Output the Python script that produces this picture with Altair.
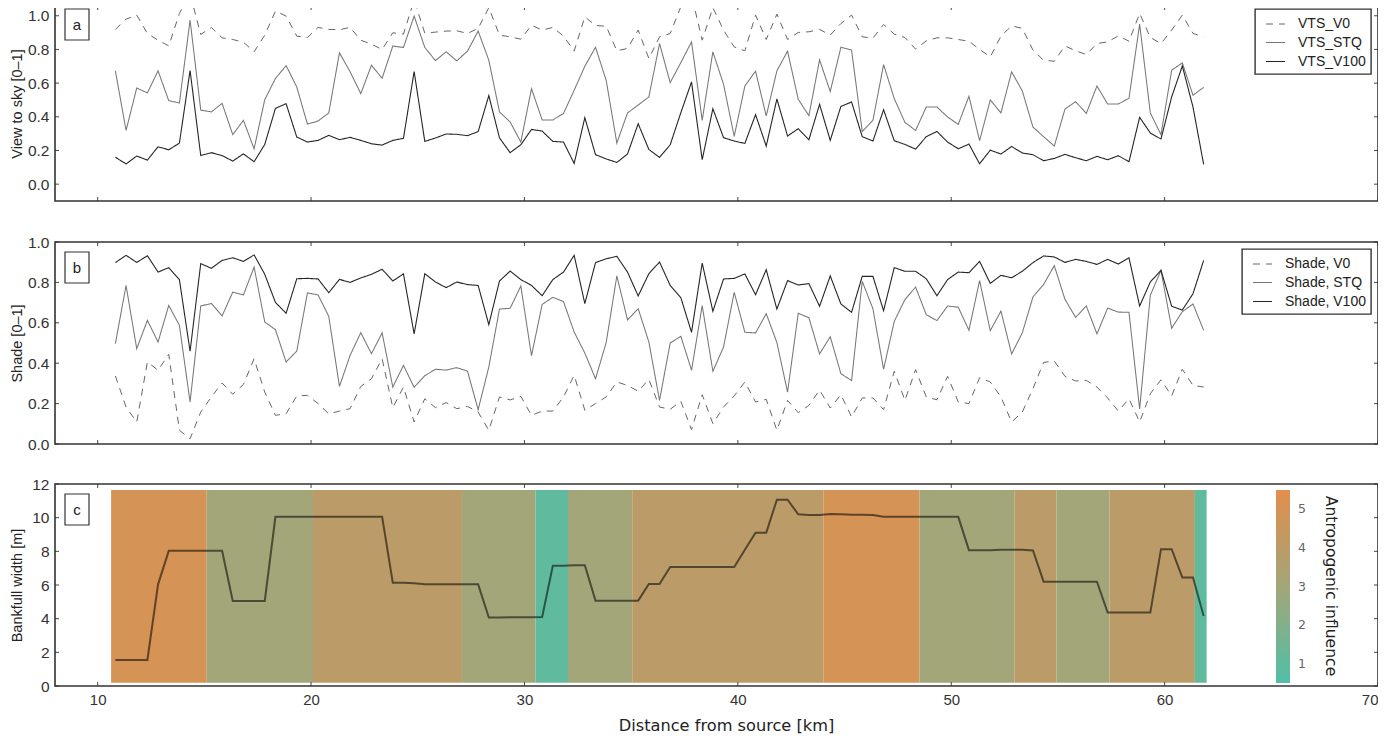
import altair as alt
import pandas as pd

DIST = [10.83,11.33,11.83,12.33,12.83,13.33,13.83,14.33,14.83,15.33,
        15.83,16.33,16.83,17.33,17.83,18.33,18.83,19.33,19.83,20.33,
        20.83,21.33,21.83,22.33,22.83,23.33,23.83,24.33,24.83,25.33,
        25.83,26.33,26.83,27.33,27.83,28.33,28.83,29.33,29.83,30.33,
        30.83,31.33,31.83,32.33,32.83,33.33,33.83,34.33,34.83,35.33,
        35.83,36.33,36.83,37.33,37.83,38.33,38.83,39.33,39.83,40.33,
        40.83,41.33,41.83,42.33,42.83,43.33,43.83,44.33,44.83,45.33,
        45.83,46.33,46.83,47.33,47.83,48.33,48.83,49.33,49.83,50.33,
        50.83,51.33,51.83,52.33,52.83,53.33,53.83,54.33,54.83,55.33,
        55.83,56.33,56.83,57.33,57.83,58.33,58.83,59.33,59.83,60.33,
        60.83,61.33,61.83]

VTS_V0 = [.919,.98,1.004,.895,.855,.821,1.014,1.13,.889,.931,
          .869,.859,.843,.786,.885,1.028,.998,.879,.871,.931,
          .919,.917,.931,.855,.831,.8,.899,.891,1.093,.897,
          .903,.909,.911,.895,.925,1.048,.885,.875,.861,.944,
          .915,.931,.879,.79,.994,.942,.938,.792,.806,.915,
          .746,.875,.895,1.054,1.123,.855,1.048,.915,.815,.792,
          1.004,.859,1.01,.859,.901,.905,.919,.885,.954,1.004,
          .875,.867,.948,.891,.871,.802,.851,.869,.869,.859,
          .849,.8,.756,.879,.94,.925,.796,.736,.73,.821,
          .792,.77,.835,.845,.881,.849,1.014,.871,.835,.915,
          1.004,.895,.875]
VTS_STQ = [.673,.319,.571,.542,.673,.496,.482,.974,.44,.429,
           .48,.294,.379,.21,.502,.627,.704,.577,.357,.375,
           .423,.78,.667,.538,.706,.629,.82,.812,.998,.812,
           .734,.786,.732,.79,.909,.736,.429,.369,.25,.567,
           .381,.381,.42,.558,.7,.813,.617,.244,.423,.47,
           .518,.835,.603,.722,.845,.379,.786,.593,.284,.583,
           .671,.405,.673,.79,.504,.407,.738,.55,.813,.796,
           .313,.379,.71,.508,.367,.319,.458,.458,.399,.355,
           .522,.258,.5,.423,.667,.554,.339,.282,.226,.446,
           .49,.42,.583,.476,.476,.51,.95,.423,.294,.677,
           .72,.528,.575]
VTS_V100 = [.16,.12,.167,.143,.222,.204,.244,.675,.17,.187,
            .17,.137,.18,.133,.236,.45,.478,.28,.25,.26,
            .29,.264,.278,.26,.24,.232,.26,.272,.669,.254,
            .274,.298,.296,.288,.312,.526,.275,.187,.234,.325,
            .315,.254,.25,.123,.395,.175,.15,.129,.179,.359,
            .206,.159,.234,.425,.607,.145,.448,.276,.256,.242,
            .413,.226,.506,.286,.329,.264,.474,.26,.462,.488,
            .282,.256,.442,.258,.236,.208,.282,.313,.25,.21,
            .238,.121,.202,.179,.224,.185,.175,.139,.153,.177,
            .157,.139,.165,.145,.169,.133,.397,.304,.268,.518,
            .702,.458,.117]

SHADE_V0 = [.337,.183,.109,.406,.365,.444,.068,.026,.158,.233,
            .302,.246,.295,.422,.257,.142,.15,.238,.241,.2,
            .149,.163,.175,.285,.323,.422,.18,.282,.109,.224,
            .18,.205,.175,.186,.158,.068,.233,.218,.236,.142,
            .163,.163,.233,.34,.167,.2,.233,.307,.29,.261,
            .32,.183,.172,.211,.071,.244,.101,.183,.238,.307,
            .208,.221,.068,.216,.155,.191,.267,.178,.244,.134,
            .228,.228,.17,.36,.216,.368,.233,.219,.335,.208,
            .2,.328,.307,.233,.109,.158,.274,.404,.411,.335,
            .312,.315,.282,.228,.163,.224,.109,.249,.318,.238,
            .37,.29,.282]
SHADE_STQ = [.497,.785,.472,.612,.505,.686,.587,.208,.683,.696,
             .634,.752,.738,.876,.604,.566,.406,.46,.748,.738,
             .632,.285,.439,.551,.447,.55,.282,.389,.281,.338,
             .37,.366,.378,.361,.17,.381,.668,.672,.782,.437,
             .691,.726,.705,.554,.45,.323,.502,.832,.614,.67,
             .505,.216,.5,.533,.365,.685,.36,.48,.751,.553,
             .55,.645,.502,.257,.647,.625,.446,.531,.348,.314,
             .805,.67,.37,.607,.715,.777,.64,.611,.683,.677,
             .563,.809,.561,.658,.446,.55,.728,.79,.883,.716,
             .627,.683,.545,.673,.653,.652,.173,.736,.86,.573,
             .655,.693,.563]
SHADE_V100 = [.898,.934,.899,.932,.851,.873,.814,.459,.893,.87,
              .909,.922,.904,.936,.84,.701,.647,.818,.82,.817,
              .749,.815,.8,.822,.84,.865,.807,.842,.545,.843,
              .802,.774,.802,.789,.785,.591,.807,.856,.814,.785,
              .734,.814,.851,.934,.695,.898,.917,.929,.851,.733,
              .843,.901,.785,.724,.553,.896,.657,.817,.82,.842,
              .739,.863,.668,.809,.787,.794,.682,.832,.693,.652,
              .83,.83,.66,.873,.855,.855,.818,.734,.814,.851,
              .848,.904,.795,.835,.823,.855,.898,.931,.926,.899,
              .914,.904,.889,.914,.891,.922,.683,.802,.86,.682,
              .663,.744,.909]

WIDTH_M = [1.55,1.55,1.55,1.55,6.04,8.03,8.03,8.03,8.03,8.03,8.03,
           5.05,5.05,5.05,5.05,
           10.05,10.05,10.05,10.05,10.05,10.05,10.05,10.05,10.05,10.05,10.05,
           6.14,6.13,6.1,6.04,6.04,6.04,6.04,6.04,6.04,
           4.07,4.07,4.08,4.08,4.09,4.1,
           7.14,7.14,7.17,7.17,5.07,5.07,5.07,5.07,5.07,6.06,6.06,
           7.07,7.07,7.07,7.07,7.07,7.07,7.07,8.1,9.1,9.1,11.07,11.07,
           10.2,10.16,10.16,10.22,10.2,10.18,10.18,10.16,
           10.05,10.05,10.05,10.05,10.05,10.05,10.05,10.05,
           8.07,8.07,8.07,8.1,8.1,8.1,8.05,
           6.2,6.2,6.2,6.2,6.2,6.2,
           4.36,4.36,4.36,4.36,4.36,8.13,8.13,6.45,6.45,4.16]

BAND_START = [10.63,15.11,20.09,27.07,30.52,32.04,35.05,44.01,48.51,52.96,54.93,57.42,61.42]
BAND_END = [15.11,20.09,27.07,30.52,32.04,35.05,44.01,48.51,52.96,54.93,57.42,61.42,61.97]
BAND_CLASS = [5,3,4,3,1,3,4,5,3,4,3,4,1]
BAND_BOTTOM = [0.2] * 13
BAND_TOP = [11.64] * 13

X_TICKS = [10,20,30,40,50,60,70]
Y_TICKS_AB = [0.0,0.2,0.4,0.6,0.8,1.0]
Y_TICKS_C = [0,2,4,6,8,10,12]

W, H = 1323, 202
TICK = 4
SANS = "Liberation Sans"
DEJA = "DejaVu Sans"
XSCALE = alt.Scale(domain=[8,70], nice=False, zero=False)
INK = "#333333"


def frame_ticks(y_scale, y_ticks, h):
    xt = pd.DataFrame({"t": X_TICKS})
    yt = pd.DataFrame({"t": y_ticks})
    st = dict(color=INK, strokeWidth=0.9)
    return [
        alt.Chart(xt).mark_rule(**st).encode(x=alt.X("t:Q", scale=XSCALE), y=alt.value(0), y2=alt.value(TICK)),
        alt.Chart(xt).mark_rule(**st).encode(x=alt.X("t:Q", scale=XSCALE), y=alt.value(h - TICK), y2=alt.value(h)),
        alt.Chart(yt).mark_rule(**st).encode(y=alt.Y("t:Q", scale=y_scale), x=alt.value(0), x2=alt.value(TICK)),
        alt.Chart(yt).mark_rule(**st).encode(y=alt.Y("t:Q", scale=y_scale), x=alt.value(W - TICK), x2=alt.value(W)),
    ]


def letter_box(letter, top):
    d = pd.DataFrame({"label": [letter]})
    box = alt.Chart(d).mark_rect(fill="white", stroke=INK, strokeWidth=1.2).encode(
        x=alt.value(10), x2=alt.value(34), y=alt.value(top), y2=alt.value(top + 31))
    txt = alt.Chart(d).mark_text(font=SANS, fontSize=15, color="#222222").encode(
        x=alt.value(22), y=alt.value(top + 16), text="label:N")
    return [box, txt]


def series_panel(letter, names, vals, ylabel, y_dom, y_ticks, lx, ly, h, box_top):
    rows = []
    for n, v in zip(names, vals):
        for x, y in zip(DIST, v):
            rows.append({"dist": x, "val": y, "series": n})
    df = pd.DataFrame(rows)
    ysc = alt.Scale(domain=y_dom, nice=False, zero=False)
    leg = alt.Legend(title=None, orient="none", legendX=lx, legendY=ly, symbolType="stroke",
                     symbolSize=361, symbolOffset=5, labelFont=SANS, labelFontSize=14, labelColor="#222222",
                     strokeColor=INK, fillColor="white", padding=5, labelOffset=12,
                     rowPadding=1)
    base = alt.Chart(df).mark_line(clip=True, strokeJoin="miter").encode(
        x=alt.X("dist:Q", scale=XSCALE,
                axis=alt.Axis(values=X_TICKS, tickCount=len(X_TICKS), labels=False, ticks=False, domain=False,
                              grid=False, title=None)),
        y=alt.Y("val:Q", scale=ysc,
                axis=alt.Axis(values=y_ticks, tickCount=len(y_ticks), format=".1f", ticks=False, domain=False,
                              grid=False, title=ylabel,
                              labelFont=SANS, labelFontSize=15.5, labelColor="#333333", labelPadding=6,
                              labelOverlap=False, labelBound=False, labelFlush=False,
                              titleFont=SANS, titleFontSize=14.5, titleFontWeight="normal", titleColor="#222222",
                              titleX=-37.5, titleBaseline="middle")),
        color=alt.Color("series:N", sort=names, scale=alt.Scale(domain=names, range=["#666666","#777777","#262626"]), legend=leg),
        strokeDash=alt.StrokeDash("series:N", sort=names,
                                  scale=alt.Scale(domain=names, range=[[7,6],[1,0],[1,0]]), legend=leg),
        strokeWidth=alt.StrokeWidth("series:N", sort=names,
                                    scale=alt.Scale(domain=names, range=[1.0,1.1,2.2]), legend=leg),
        order="series:N",
    )
    return alt.layer(base, *frame_ticks(ysc, y_ticks, h), *letter_box(letter, box_top)).properties(width=W, height=h)


panel_a = series_panel("a", ["VTS_V0","VTS_STQ","VTS_V100"], [VTS_V0, VTS_STQ, VTS_V100],
                       "View to sky [0–1]", [-0.1,1.058], Y_TICKS_AB, 1200, 3, 195, 3)
panel_b = series_panel("b", ["Shade, V0","Shade, STQ","Shade, V100"], [SHADE_V0, SHADE_STQ, SHADE_V100],
                       "Shade [0–1]", [0,1], Y_TICKS_AB, 1187, 7, H, 10)

bands = pd.DataFrame({"start": BAND_START, "end": BAND_END, "cls": BAND_CLASS,
                      "bottom": BAND_BOTTOM, "top": BAND_TOP})
line_c = pd.DataFrame({"dist": DIST, "w": WIDTH_M})
ysc_c = alt.Scale(domain=[0,12], nice=False, zero=False)

band_layer = alt.Chart(bands).mark_rect().encode(
    x=alt.X("start:Q", scale=XSCALE,
            axis=alt.Axis(values=X_TICKS, tickCount=len(X_TICKS), format="d", ticks=False, domain=False, grid=False,
                          title="Distance from source [km]", labelFont=SANS, labelFontSize=15,
                          labelColor="#333333", labelPadding=6, labelFlush=True, labelOverlap=False,
                          labelBound=False,
                          titleFont=DEJA, titleFontSize=16.2, titleFontWeight="normal", titleColor="#222222",
                          titleX=671, titleY=39, titleBaseline="middle")),
    x2="end:Q",
    y=alt.Y("bottom:Q", scale=ysc_c,
            axis=alt.Axis(values=Y_TICKS_C, tickCount=len(Y_TICKS_C), format="d", ticks=False, domain=False, grid=False,
                          title="Bankfull width [m]", labelFont=SANS, labelFontSize=15.5, labelColor="#333333",
                          labelPadding=6, labelFlush=False, labelOverlap=False, labelBound=False,
                          titleFont=SANS, titleFontSize=14.5, titleFontWeight="normal",
                          titleColor="#222222", titleX=-37.5, titleBaseline="middle")),
    y2="top:Q",
    color=alt.Color("cls:Q",
                    scale=alt.Scale(domain=[0.5,1,3,4,5,5.5],
                                    range=["#52bfa7","#60ba9e","#a3a678","#bb9b67","#d59356","#e48e4d"],
                                    interpolate="rgb"),
                    legend=alt.Legend(title=None, orient="none", legendX=1221, legendY=6, direction="vertical",
                                      gradientLength=193, gradientThickness=14, gradientStrokeWidth=0,
                                      values=[1,2,3,4,5], format="d", labelFont=DEJA, labelFontSize=12.5,
                                      labelColor="#666666", labelOffset=8, padding=0)),
)
width_line = alt.Chart(line_c).mark_line(color="black", opacity=0.55, strokeWidth=2, strokeJoin="miter").encode(
    x=alt.X("dist:Q", scale=XSCALE), y=alt.Y("w:Q", scale=ysc_c))
bar_title = alt.Chart(pd.DataFrame({"t": ["Antropogenic influence"]})).mark_text(
    angle=90, font=DEJA, fontSize=15.6, color="#222222").encode(
    x=alt.value(1276), y=alt.value(102), text="t:N")

panel_c = alt.layer(band_layer, width_line, *frame_ticks(ysc_c, Y_TICKS_C, H), *letter_box("c", 10), bar_title).properties(
    width=W, height=H)

lower = alt.vconcat(panel_b, panel_c, spacing=40, bounds="flush").resolve_scale(
    color="independent", strokeDash="independent", strokeWidth="independent").resolve_legend(
    color="independent", strokeDash="independent", strokeWidth="independent")
chart = alt.vconcat(panel_a, lower, spacing=41, bounds="flush").resolve_scale(
    color="independent", strokeDash="independent", strokeWidth="independent").resolve_legend(
    color="independent", strokeDash="independent", strokeWidth="independent").properties(
    padding={"left": 0, "top": -4, "right": -2, "bottom": 0}
).configure_view(stroke=INK, strokeWidth=1.6).configure_legend(strokeWidth=1.4, cornerRadius=0)

chart.save("out.html", embed_options={"renderer": "svg", "actions": False})
